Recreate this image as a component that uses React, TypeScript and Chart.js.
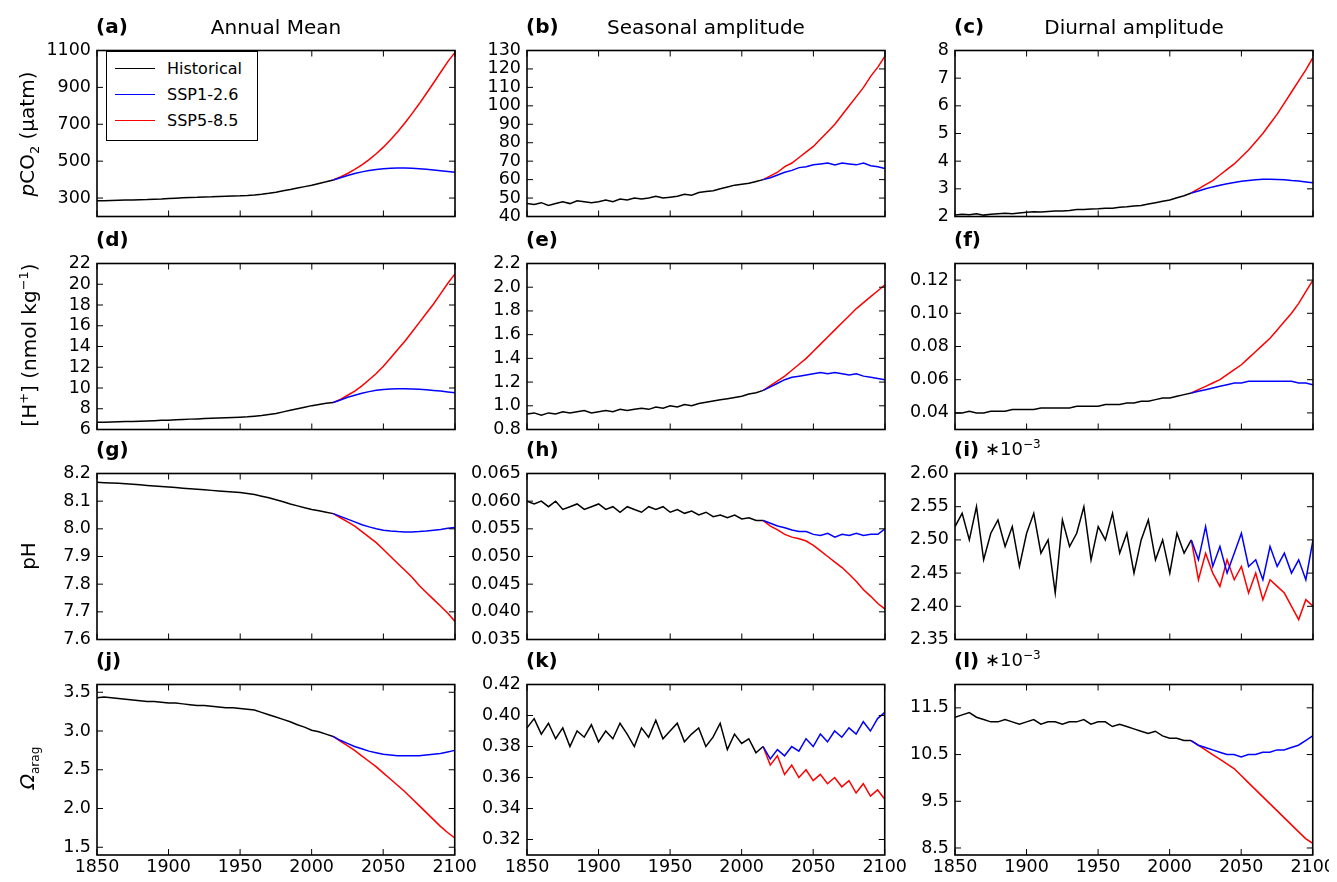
import React, { useEffect, useRef } from "react";
import { Chart, registerables } from "chart.js";
Chart.register(...registerables);

const histYears = Array.from({ length: 34 }, (_, i) => 1850 + i * 5);
const sspYears = Array.from({ length: 18 }, (_, i) => 2015 + i * 5);
const xTicks = [1850, 1900, 1950, 2000, 2050, 2100];
const xTickLabels = ["1850", "1900", "1950", "2000", "2050", "2100"];

// (a) pCO2 annual mean
const aHist = [285,286,287,288,289,290,291,292,294,295,297,299,301,303,304,306,307,309,310,311,312,314,317,321,326,332,339,346,354,362,370,379,388,398];
const aSsp1 = [398,410,422,433,442,449,455,459,462,463,463,462,459,456,452,448,444,440];
const aSsp5 = [398,415,433,455,480,508,540,576,616,660,707,758,811,867,924,982,1040,1090];
// (b) pCO2 seasonal
const bHist = [47,46.5,47.5,46,47,48,47,48.5,48,47.5,48,49,48,49.5,49,50,49.5,50,51,50,50.5,51,52,51.5,53,53.5,54,55,56,57,57.5,58,59,60];
const bSsp1 = [60,61,62.5,64,65,66.5,67,68,68.5,69,68,69,68.5,68,69,67.5,67,66];
const bSsp5 = [60,62,64,67,69,72,75,78,82,86,90,95,100,105,110,116,121,127];
// (c) pCO2 diurnal
const cHist = [2.05,2.08,2.06,2.1,2.05,2.08,2.1,2.12,2.1,2.13,2.15,2.17,2.16,2.18,2.2,2.2,2.22,2.25,2.25,2.27,2.28,2.3,2.3,2.33,2.35,2.38,2.4,2.45,2.5,2.55,2.6,2.68,2.75,2.85];
const cSsp1 = [2.85,2.92,3.0,3.07,3.13,3.18,3.23,3.27,3.3,3.33,3.35,3.35,3.34,3.33,3.3,3.28,3.25,3.22];
const cSsp5 = [2.85,3.0,3.15,3.3,3.5,3.7,3.9,4.15,4.4,4.7,5.0,5.35,5.7,6.1,6.5,6.9,7.3,7.75];
// (d) [H+] annual
const dHist = [6.7,6.7,6.72,6.74,6.76,6.78,6.8,6.82,6.85,6.88,6.9,6.93,6.96,7.0,7.02,7.05,7.08,7.1,7.13,7.15,7.18,7.22,7.28,7.35,7.45,7.55,7.7,7.85,8.0,8.15,8.3,8.42,8.52,8.6];
const dSsp1 = [8.6,8.85,9.1,9.3,9.5,9.65,9.78,9.85,9.9,9.92,9.92,9.9,9.87,9.82,9.76,9.7,9.62,9.55];
const dSsp5 = [8.6,8.9,9.3,9.7,10.2,10.8,11.4,12.1,12.9,13.7,14.5,15.4,16.3,17.2,18.1,19.1,20.1,21.0];
// (e) [H+] seasonal
const eHist = [0.93,0.94,0.92,0.94,0.93,0.95,0.94,0.95,0.96,0.94,0.95,0.96,0.95,0.97,0.96,0.97,0.98,0.97,0.99,0.98,1.0,0.99,1.01,1.0,1.02,1.03,1.04,1.05,1.06,1.07,1.08,1.1,1.11,1.13];
const eSsp1 = [1.13,1.16,1.19,1.22,1.24,1.25,1.26,1.27,1.28,1.27,1.28,1.27,1.26,1.27,1.25,1.24,1.23,1.22];
const eSsp5 = [1.13,1.17,1.21,1.25,1.3,1.35,1.4,1.46,1.52,1.58,1.64,1.7,1.76,1.82,1.87,1.92,1.97,2.02];
// (f) [H+] diurnal
const fHist = [0.040,0.040,0.041,0.040,0.040,0.041,0.041,0.041,0.042,0.042,0.042,0.042,0.043,0.043,0.043,0.043,0.043,0.044,0.044,0.044,0.044,0.045,0.045,0.045,0.046,0.046,0.047,0.047,0.048,0.049,0.049,0.050,0.051,0.052];
const fSsp1 = [0.052,0.053,0.054,0.055,0.056,0.057,0.058,0.058,0.059,0.059,0.059,0.059,0.059,0.059,0.059,0.058,0.058,0.057];
const fSsp5 = [0.052,0.054,0.056,0.058,0.060,0.063,0.066,0.069,0.073,0.077,0.081,0.085,0.090,0.095,0.100,0.106,0.113,0.120];
// (g) pH annual
const gHist = [8.168,8.167,8.166,8.165,8.163,8.161,8.159,8.157,8.155,8.153,8.151,8.149,8.147,8.145,8.143,8.141,8.139,8.137,8.135,8.133,8.131,8.128,8.124,8.118,8.112,8.105,8.098,8.09,8.083,8.076,8.07,8.065,8.06,8.055];
const gSsp1 = [8.055,8.045,8.035,8.025,8.015,8.007,8.0,7.995,7.992,7.99,7.989,7.989,7.99,7.992,7.995,7.998,8.002,8.005];
const gSsp5 = [8.055,8.04,8.025,8.01,7.99,7.97,7.95,7.925,7.9,7.875,7.85,7.825,7.795,7.77,7.745,7.72,7.695,7.665];
// (h) pH seasonal
const hHist = [0.060,0.0595,0.0600,0.0590,0.0600,0.0585,0.0590,0.0595,0.0585,0.0590,0.0595,0.0585,0.0590,0.0580,0.0590,0.0585,0.0580,0.0590,0.0585,0.0590,0.0580,0.0585,0.0578,0.0582,0.0575,0.0580,0.0572,0.0575,0.0570,0.0575,0.0568,0.0570,0.0565,0.0565];
const hSsp1 = [0.0565,0.0560,0.0555,0.0552,0.0548,0.0545,0.0545,0.0540,0.0538,0.0542,0.0535,0.0540,0.0538,0.0542,0.0538,0.0540,0.0540,0.0550];
const hSsp5 = [0.0565,0.0555,0.0548,0.0540,0.0535,0.0532,0.0528,0.0520,0.0510,0.0500,0.0490,0.0480,0.0468,0.0455,0.0440,0.0428,0.0415,0.0405];
// (i) pH diurnal (*1e-3)
const iHist = [2.52,2.54,2.50,2.55,2.47,2.51,2.53,2.49,2.52,2.46,2.51,2.54,2.48,2.50,2.42,2.53,2.49,2.51,2.55,2.47,2.52,2.50,2.54,2.48,2.51,2.45,2.50,2.53,2.47,2.50,2.45,2.51,2.48,2.50];
const iSsp1 = [2.50,2.47,2.52,2.46,2.49,2.45,2.48,2.51,2.46,2.47,2.44,2.49,2.46,2.48,2.45,2.47,2.44,2.50];
const iSsp5 = [2.50,2.44,2.48,2.45,2.43,2.47,2.44,2.46,2.42,2.45,2.41,2.44,2.43,2.42,2.40,2.38,2.41,2.40];
// (j) Omega annual
const jHist = [3.43,3.44,3.43,3.42,3.41,3.4,3.39,3.38,3.38,3.37,3.36,3.36,3.35,3.34,3.33,3.33,3.32,3.31,3.3,3.3,3.29,3.28,3.27,3.24,3.21,3.18,3.15,3.12,3.08,3.05,3.01,2.99,2.96,2.93];
const jSsp1 = [2.93,2.88,2.84,2.8,2.77,2.74,2.72,2.7,2.69,2.68,2.68,2.68,2.68,2.69,2.7,2.71,2.73,2.75];
const jSsp5 = [2.93,2.87,2.81,2.75,2.68,2.61,2.54,2.46,2.38,2.3,2.22,2.13,2.04,1.95,1.86,1.77,1.69,1.62];
// (k) Omega seasonal
const kHist = [0.392,0.398,0.388,0.395,0.385,0.392,0.380,0.390,0.386,0.394,0.383,0.390,0.385,0.395,0.388,0.380,0.392,0.386,0.397,0.385,0.390,0.395,0.383,0.388,0.392,0.380,0.386,0.395,0.378,0.388,0.382,0.385,0.376,0.380];
const kSsp1 = [0.380,0.372,0.378,0.374,0.380,0.377,0.385,0.380,0.388,0.383,0.390,0.386,0.392,0.388,0.396,0.390,0.398,0.402];
const kSsp5 = [0.380,0.368,0.374,0.362,0.368,0.360,0.365,0.358,0.362,0.356,0.360,0.354,0.358,0.350,0.356,0.348,0.352,0.346];
// (l) Omega diurnal (*1e-3)
const lHist = [11.3,11.35,11.4,11.3,11.25,11.2,11.2,11.25,11.2,11.15,11.2,11.25,11.15,11.2,11.2,11.15,11.2,11.2,11.25,11.15,11.2,11.2,11.1,11.15,11.1,11.05,11.0,10.95,11.0,10.9,10.85,10.85,10.8,10.8];
const lSsp1 = [10.8,10.7,10.65,10.6,10.55,10.5,10.5,10.45,10.5,10.5,10.55,10.55,10.6,10.6,10.65,10.7,10.8,10.9];
const lSsp5 = [10.8,10.7,10.6,10.5,10.4,10.3,10.2,10.05,9.9,9.75,9.6,9.45,9.3,9.15,9.0,8.85,8.7,8.6];

const aTicks = ["300","500","700","900","1100"];
const bTicks = ["40","50","60","70","80","90","100","110","120","130"];
const cTicks = ["2","3","4","5","6","7","8"];
const dTicks = ["6","8","10","12","14","16","18","20","22"];
const eTicks = ["0.8","1.0","1.2","1.4","1.6","1.8","2.0","2.2"];
const fTicks = ["0.04","0.06","0.08","0.10","0.12"];
const gTicks = ["7.6","7.7","7.8","7.9","8.0","8.1","8.2"];
const hTicks = ["0.035","0.040","0.045","0.050","0.055","0.060","0.065"];
const iTicks = ["2.35","2.40","2.45","2.50","2.55","2.60"];
const jTicks = ["1.5","2.0","2.5","3.0","3.5"];
const kTicks = ["0.32","0.34","0.36","0.38","0.40","0.42"];
const lTicks = ["8.5","9.5","10.5","11.5"];

const FONT = "'DejaVu Sans', sans-serif";
const colL = [97, 527, 955];
const rowT = [46, 259, 469, 680];
const PW = 358, PH = 175;
const AXW = 100, PADT = 12, PADR = 24;

const panels = [
  { id: "(a)", h: aHist, s1: aSsp1, s5: aSsp5, t: aTicks, min: 200, max: 1100 },
  { id: "(b)", h: bHist, s1: bSsp1, s5: bSsp5, t: bTicks, min: 40, max: 130 },
  { id: "(c)", h: cHist, s1: cSsp1, s5: cSsp5, t: cTicks, min: 2, max: 8 },
  { id: "(d)", h: dHist, s1: dSsp1, s5: dSsp5, t: dTicks, min: 6, max: 22 },
  { id: "(e)", h: eHist, s1: eSsp1, s5: eSsp5, t: eTicks, min: 0.8, max: 2.2 },
  { id: "(f)", h: fHist, s1: fSsp1, s5: fSsp5, t: fTicks, min: 0.03, max: 0.13 },
  { id: "(g)", h: gHist, s1: gSsp1, s5: gSsp5, t: gTicks, min: 7.6, max: 8.2 },
  { id: "(h)", h: hHist, s1: hSsp1, s5: hSsp5, t: hTicks, min: 0.035, max: 0.065 },
  { id: "(i)", h: iHist, s1: iSsp1, s5: iSsp5, t: iTicks, min: 2.35, max: 2.6 },
  { id: "(j)", h: jHist, s1: jSsp1, s5: jSsp5, t: jTicks, min: 1.4, max: 3.6 },
  { id: "(k)", h: kHist, s1: kSsp1, s5: kSsp5, t: kTicks, min: 0.31, max: 0.42 },
  { id: "(l)", h: lHist, s1: lSsp1, s5: lSsp5, t: lTicks, min: 8.35, max: 12.0 },
];

const framePlugin = {
  id: "frame",
  afterDatasetsDraw(chart: any) {
    const { ctx, chartArea: a, scales } = chart;
    ctx.save();
    ctx.strokeStyle = "#000";
    ctx.lineWidth = 1;
    const L = 6;
    for (const t of scales.x.ticks) {
      const px = scales.x.getPixelForValue(t.value);
      ctx.beginPath();
      ctx.moveTo(px, a.bottom); ctx.lineTo(px, a.bottom - L);
      ctx.moveTo(px, a.top); ctx.lineTo(px, a.top + L);
      ctx.stroke();
    }
    for (const t of scales.y.ticks) {
      const py = scales.y.getPixelForValue(t.value);
      ctx.beginPath();
      ctx.moveTo(a.left, py); ctx.lineTo(a.left + L, py);
      ctx.moveTo(a.right, py); ctx.lineTo(a.right - L, py);
      ctx.stroke();
    }
    ctx.lineWidth = 1.6;
    ctx.strokeRect(a.left, a.top, a.right - a.left, a.bottom - a.top);
    ctx.restore();
  },
};

function Panel({ p, idx }: { p: any; idx: number }) {
  const ref = useRef<HTMLCanvasElement>(null);
  const col = idx % 3, row = Math.floor(idx / 3);
  const showX = row === 3;
  const bottomH = showX ? 26 : 12;
  useEffect(() => {
    const yVals = p.t.map((s: string) => parseFloat(s));
    const mk = (xs: number[], ys: number[]) => xs.map((x, i) => ({ x, y: ys[i] }));
    const ds = (data: any, color: string) => ({ data, borderColor: color, borderWidth: 1.5, pointRadius: 0, fill: false, tension: 0 });
    const chart = new Chart(ref.current!, {
      type: "line",
      data: { datasets: [ds(mk(sspYears, p.s1), "#0000ff"), ds(mk(sspYears, p.s5), "#ff0000"), ds(mk(histYears, p.h), "#000000")] },
      plugins: [framePlugin],
      options: {
        animation: false, responsive: false, maintainAspectRatio: false,
        layout: { padding: { top: PADT, right: PADR, left: 0, bottom: 0 } },
        plugins: { legend: { display: false }, tooltip: { enabled: false } },
        scales: {
          x: {
            type: "linear", min: 1850, max: 2100,
            grid: { display: false, drawTicks: false }, border: { display: false },
            afterBuildTicks: (s: any) => { s.ticks = xTicks.map((v) => ({ value: v })); },
            afterFit: (s: any) => { s.height = bottomH; },
            ticks: { display: showX, autoSkip: false, maxRotation: 0, padding: 2, color: "#000", font: { family: FONT, size: 17.5 }, callback: (_v: any, i: number) => xTickLabels[i] },
          },
          y: {
            min: p.min, max: p.max,
            grid: { display: false, drawTicks: false }, border: { display: false },
            afterBuildTicks: (s: any) => { s.ticks = yVals.map((v: number) => ({ value: v })); },
            afterFit: (s: any) => { s.width = AXW; },
            ticks: { autoSkip: false, padding: 6, color: "#000", font: { family: FONT, size: 17.5 }, callback: (_v: any, i: number) => p.t[i] },
          },
        },
      } as any,
    });
    return () => chart.destroy();
  }, []);
  const w = AXW + PW + PADR, h = PADT + PH + bottomH;
  return (
    <canvas ref={ref} width={w} height={h}
      style={{ position: "absolute", left: colL[col] - AXW, top: rowT[row] - PADT, width: w, height: h }} />
  );
}

const txt: React.CSSProperties = { position: "absolute", fontFamily: FONT, color: "#000", whiteSpace: "nowrap" };
const yLabelCenters = [134, 345, 556, 768];

export default function App() {
  return (
    <div style={{ position: "relative", width: 1337, height: 882, background: "#fff", margin: -8, overflow: "hidden" }}>
      {panels.map((p, i) => <Panel key={i} p={p} idx={i} />)}
      {panels.map((p, i) => (
        <div key={"l" + i} style={{ ...txt, left: colL[i % 3] - 1, top: rowT[Math.floor(i / 3)] - 32, fontSize: 20, fontWeight: "bold" }}>{p.id}</div>
      ))}
      <div style={{ ...txt, left: colL[0], width: PW, textAlign: "center", top: 15, fontSize: 20 }}>Annual Mean</div>
      <div style={{ ...txt, left: colL[1], width: PW, textAlign: "center", top: 15, fontSize: 20 }}>Seasonal amplitude</div>
      <div style={{ ...txt, left: colL[2], width: PW, textAlign: "center", top: 15, fontSize: 20 }}>Diurnal amplitude</div>
      <div style={{ ...txt, left: colL[2] + 30, top: rowT[2] - 32, fontSize: 18 }}>∗10<sup style={{ fontSize: 12 }}>−3</sup></div>
      <div style={{ ...txt, left: colL[2] + 30, top: rowT[3] - 32, fontSize: 18 }}>∗10<sup style={{ fontSize: 12 }}>−3</sup></div>
      {[
        <span><i>p</i>CO<sub style={{ fontSize: 13 }}>2</sub> (µatm)</span>,
        <span>[H<sup style={{ fontSize: 13 }}>+</sup>] (nmol kg<sup style={{ fontSize: 13 }}>−1</sup>)</span>,
        <span>pH</span>,
        <span><i>Ω</i><sub style={{ fontSize: 12 }}>arag</sub></span>,
      ].map((el, i) => (
        <div key={"y" + i} style={{ ...txt, left: 28, top: yLabelCenters[i], fontSize: 20, transform: "translate(-50%,-50%) rotate(-90deg)" }}>{el}</div>
      ))}
      <div style={{ position: "absolute", left: 106, top: 51, width: 150, height: 88, border: "1px solid #000", background: "#fff", fontFamily: FONT, fontSize: 16 }}>
        {[["Historical", "#000"], ["SSP1-2.6", "#0000ff"], ["SSP5-8.5", "#ff0000"]].map(([n, c], i) => (
          <div key={n} style={{ position: "absolute", left: 8, top: 7 + i * 26, display: "flex", alignItems: "center" }}>
            <span style={{ display: "inline-block", width: 40, height: 0, borderTop: `1.5px solid ${c}`, marginRight: 12 }} />
            <span>{n}</span>
          </div>
        ))}
      </div>
    </div>
  );
}
